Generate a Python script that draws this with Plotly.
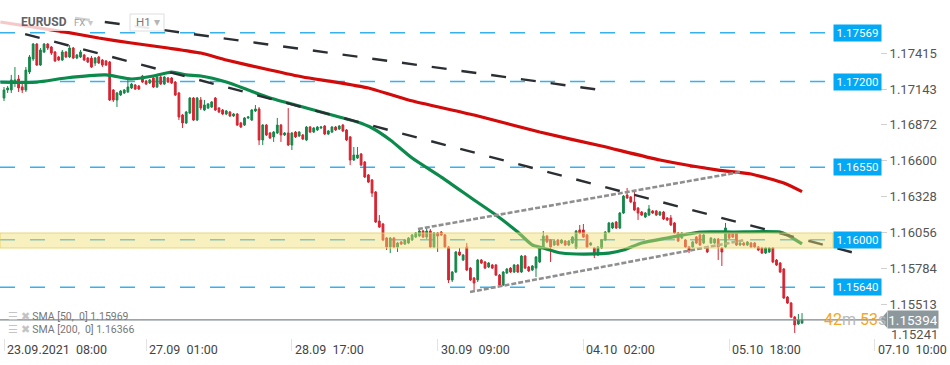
import plotly.graph_objects as go

# ---------------- data (EURUSD, H1) ----------------
opens = [
    1.17075, 1.17136, 1.17136, 1.17189, 1.17219, 1.17159, 1.17136, 1.17272, 1.17371, 1.17484,
    1.17325, 1.17424, 1.17484, 1.17462, 1.17424, 1.17386, 1.17363, 1.17424, 1.17386, 1.17454,
    1.17378, 1.17386, 1.17401, 1.17378, 1.17378, 1.17340, 1.17386, 1.17363, 1.17356, 1.17348,
    1.17136, 1.17060, 1.17098, 1.17113, 1.17121, 1.17151, 1.17174, 1.17166, 1.17242, 1.17204,
    1.17189, 1.17227, 1.17159, 1.17234, 1.17181, 1.17227, 1.17227, 1.17196, 1.17113, 1.16946,
    1.16886, 1.16961, 1.17075, 1.16908, 1.17060, 1.16984, 1.16999, 1.17007, 1.17075, 1.16999,
    1.16984, 1.16954, 1.16969, 1.16939, 1.16954, 1.16886, 1.16870, 1.16924, 1.16908, 1.16977,
    1.16992, 1.16757, 1.16870, 1.16810, 1.16780, 1.16810, 1.16870, 1.16795, 1.16810, 1.16719,
    1.16817, 1.16787, 1.16795, 1.16757, 1.16855, 1.16817, 1.16833, 1.16848, 1.16863, 1.16802,
    1.16817, 1.16855, 1.16840, 1.16870, 1.16833, 1.16780, 1.16605, 1.16620, 1.16651, 1.16590,
    1.16492, 1.16454, 1.16363, 1.16143, 1.16120, 1.16014, 1.15946, 1.16014, 1.15946, 1.15984,
    1.15968, 1.15976, 1.15999, 1.16021, 1.16029, 1.16067, 1.16021, 1.16067, 1.15946, 1.16052,
    1.16059, 1.16037, 1.15946, 1.15696, 1.15756, 1.15908, 1.15847, 1.15946, 1.15786, 1.15711,
    1.15696, 1.15847, 1.15832, 1.15794, 1.15809, 1.15809, 1.15733, 1.15658, 1.15749, 1.15786,
    1.15756, 1.15809, 1.15756, 1.15877, 1.15794, 1.15771, 1.15786, 1.15832, 1.15938, 1.16029,
    1.15999, 1.15961, 1.15999, 1.15976, 1.15991, 1.15961, 1.15976, 1.15938, 1.16075, 1.16075,
    1.16037, 1.15961, 1.15938, 1.15885, 1.15938, 1.15999, 1.16059, 1.16090, 1.16135, 1.16090,
    1.16203, 1.16340, 1.16325, 1.16287, 1.16241, 1.16211, 1.16173, 1.16188, 1.16219, 1.16219,
    1.16188, 1.16211, 1.16166, 1.16166, 1.16128, 1.16052, 1.16014, 1.15999, 1.15946, 1.15946,
    1.16021, 1.16037, 1.15976, 1.15946, 1.15976, 1.15976, 1.16006, 1.15938, 1.15946, 1.16052,
    1.16044, 1.16052, 1.15961, 1.15976, 1.15961, 1.15976, 1.15976, 1.15946, 1.15938, 1.15900,
    1.15908, 1.15938, 1.15847, 1.15824, 1.15779, 1.15567, 1.15521, 1.15415, 1.15362, 1.15370,
]
highs = [
    1.17159, 1.17166, 1.17250, 1.17310, 1.17250, 1.17189, 1.17310, 1.17401, 1.17492, 1.17492,
    1.17454, 1.17492, 1.17492, 1.17469, 1.17431, 1.17394, 1.17439, 1.17431, 1.17477, 1.17462,
    1.17409, 1.17439, 1.17409, 1.17386, 1.17394, 1.17386, 1.17394, 1.17371, 1.17363, 1.17356,
    1.17143, 1.17121, 1.17136, 1.17143, 1.17234, 1.17189, 1.17181, 1.17174, 1.17250, 1.17212,
    1.17219, 1.17234, 1.17242, 1.17242, 1.17242, 1.17234, 1.17234, 1.17204, 1.17121, 1.16954,
    1.16977, 1.17083, 1.17083, 1.17083, 1.17083, 1.17060, 1.17037, 1.17052, 1.17083, 1.17007,
    1.16992, 1.16984, 1.16977, 1.16961, 1.16961, 1.16893, 1.16931, 1.16939, 1.16992, 1.17022,
    1.17007, 1.16878, 1.16878, 1.16817, 1.16825, 1.16924, 1.16878, 1.16817, 1.16999, 1.16817,
    1.16825, 1.16825, 1.16802, 1.16863, 1.16863, 1.16855, 1.16863, 1.16863, 1.16870, 1.16833,
    1.16863, 1.16863, 1.16870, 1.16878, 1.16840, 1.16787, 1.16704, 1.16704, 1.16658, 1.16598,
    1.16499, 1.16461, 1.16370, 1.16188, 1.16128, 1.16021, 1.16021, 1.16021, 1.15984, 1.15991,
    1.16006, 1.16021, 1.16044, 1.16059, 1.16082, 1.16075, 1.16090, 1.16082, 1.16059, 1.16059,
    1.16067, 1.16044, 1.15953, 1.15764, 1.15915, 1.15938, 1.15893, 1.15976, 1.15794, 1.15718,
    1.15855, 1.15855, 1.15840, 1.15832, 1.15817, 1.15817, 1.15741, 1.15764, 1.15786, 1.15794,
    1.15817, 1.15817, 1.15885, 1.15885, 1.15802, 1.15809, 1.15877, 1.15946, 1.16067, 1.16037,
    1.16006, 1.15999, 1.16006, 1.16006, 1.15999, 1.15999, 1.16029, 1.16075, 1.16113, 1.16120,
    1.16044, 1.15984, 1.15946, 1.15953, 1.16006, 1.16067, 1.16135, 1.16135, 1.16143, 1.16211,
    1.16340, 1.16393, 1.16332, 1.16378, 1.16249, 1.16219, 1.16211, 1.16264, 1.16226, 1.16226,
    1.16219, 1.16219, 1.16173, 1.16188, 1.16135, 1.16059, 1.16059, 1.16006, 1.15953, 1.15991,
    1.16029, 1.16044, 1.16044, 1.15953, 1.16021, 1.16014, 1.16014, 1.15946, 1.16128, 1.16059,
    1.16052, 1.16059, 1.15984, 1.15984, 1.15991, 1.15984, 1.15984, 1.15953, 1.15946, 1.15946,
    1.15946, 1.15946, 1.15855, 1.15832, 1.15786, 1.15574, 1.15529, 1.15423, 1.15438, 1.15445,
]
lows = [
    1.17052, 1.17113, 1.17113, 1.17159, 1.17121, 1.17113, 1.17121, 1.17257, 1.17356, 1.17318,
    1.17318, 1.17416, 1.17439, 1.17401, 1.17348, 1.17356, 1.17356, 1.17378, 1.17378, 1.17371,
    1.17371, 1.17378, 1.17356, 1.17340, 1.17303, 1.17318, 1.17333, 1.17310, 1.17318, 1.17052,
    1.17045, 1.17007, 1.17090, 1.17105, 1.17113, 1.17143, 1.17136, 1.17136, 1.17189, 1.17174,
    1.17181, 1.17151, 1.17151, 1.17174, 1.17174, 1.17189, 1.17181, 1.17090, 1.16908, 1.16848,
    1.16878, 1.16954, 1.16901, 1.16901, 1.16984, 1.16977, 1.16992, 1.16999, 1.16977, 1.16961,
    1.16946, 1.16946, 1.16931, 1.16931, 1.16863, 1.16848, 1.16863, 1.16916, 1.16901, 1.16969,
    1.16719, 1.16719, 1.16787, 1.16764, 1.16742, 1.16802, 1.16742, 1.16787, 1.16711, 1.16681,
    1.16772, 1.16780, 1.16757, 1.16749, 1.16810, 1.16810, 1.16825, 1.16840, 1.16795, 1.16795,
    1.16810, 1.16825, 1.16833, 1.16817, 1.16749, 1.16567, 1.16598, 1.16613, 1.16560, 1.16469,
    1.16431, 1.16325, 1.16128, 1.16090, 1.15991, 1.15923, 1.15900, 1.15938, 1.15908, 1.15961,
    1.15961, 1.15968, 1.15991, 1.16014, 1.16021, 1.16014, 1.16006, 1.15938, 1.15938, 1.15908,
    1.16029, 1.15938, 1.15673, 1.15680, 1.15749, 1.15877, 1.15840, 1.15764, 1.15688, 1.15620,
    1.15680, 1.15817, 1.15779, 1.15786, 1.15779, 1.15726, 1.15650, 1.15650, 1.15741, 1.15749,
    1.15749, 1.15749, 1.15749, 1.15779, 1.15756, 1.15764, 1.15718, 1.15824, 1.15931, 1.15976,
    1.15832, 1.15953, 1.15953, 1.15968, 1.15953, 1.15953, 1.15968, 1.15931, 1.16044, 1.16014,
    1.15938, 1.15953, 1.15862, 1.15877, 1.15931, 1.15991, 1.16052, 1.16082, 1.16082, 1.16082,
    1.16196, 1.16310, 1.16279, 1.16219, 1.16150, 1.16181, 1.16166, 1.16181, 1.16196, 1.16181,
    1.16181, 1.16150, 1.16143, 1.16105, 1.16044, 1.15984, 1.16006, 1.15938, 1.15900, 1.15938,
    1.15968, 1.15953, 1.15968, 1.15900, 1.15968, 1.15968, 1.15847, 1.15802, 1.15938, 1.16006,
    1.16014, 1.15953, 1.15953, 1.15953, 1.15953, 1.15938, 1.15938, 1.15915, 1.15893, 1.15893,
    1.15900, 1.15824, 1.15802, 1.15749, 1.15552, 1.15514, 1.15408, 1.15294, 1.15355, 1.15362,
]
closes = [
    1.17136, 1.17151, 1.17212, 1.17212, 1.17151, 1.17136, 1.17287, 1.17386, 1.17484, 1.17325,
    1.17439, 1.17484, 1.17454, 1.17416, 1.17356, 1.17363, 1.17424, 1.17386, 1.17454, 1.17378,
    1.17401, 1.17424, 1.17363, 1.17348, 1.17310, 1.17378, 1.17340, 1.17325, 1.17325, 1.17060,
    1.17060, 1.17113, 1.17128, 1.17136, 1.17159, 1.17181, 1.17143, 1.17143, 1.17196, 1.17181,
    1.17212, 1.17159, 1.17234, 1.17181, 1.17234, 1.17196, 1.17189, 1.17098, 1.16931, 1.16886,
    1.16969, 1.17075, 1.16908, 1.17075, 1.16999, 1.17022, 1.17030, 1.17045, 1.16984, 1.16969,
    1.16954, 1.16977, 1.16939, 1.16954, 1.16870, 1.16855, 1.16924, 1.16931, 1.16984, 1.16992,
    1.16757, 1.16870, 1.16795, 1.16772, 1.16817, 1.16870, 1.16795, 1.16810, 1.16719, 1.16810,
    1.16780, 1.16817, 1.16764, 1.16855, 1.16817, 1.16848, 1.16855, 1.16855, 1.16802, 1.16825,
    1.16855, 1.16833, 1.16863, 1.16825, 1.16757, 1.16605, 1.16643, 1.16643, 1.16567, 1.16476,
    1.16438, 1.16355, 1.16135, 1.16097, 1.15999, 1.15946, 1.16014, 1.15946, 1.15976, 1.15968,
    1.15999, 1.16014, 1.16037, 1.16052, 1.16067, 1.16021, 1.16067, 1.15946, 1.16052, 1.16029,
    1.16037, 1.15946, 1.15696, 1.15756, 1.15908, 1.15885, 1.15885, 1.15771, 1.15696, 1.15673,
    1.15847, 1.15824, 1.15786, 1.15824, 1.15786, 1.15733, 1.15658, 1.15756, 1.15779, 1.15756,
    1.15809, 1.15756, 1.15877, 1.15786, 1.15764, 1.15802, 1.15870, 1.15938, 1.16029, 1.15984,
    1.15946, 1.15991, 1.15961, 1.15999, 1.15961, 1.15991, 1.16021, 1.16067, 1.16052, 1.16021,
    1.15946, 1.15976, 1.15885, 1.15946, 1.15999, 1.16059, 1.16128, 1.16128, 1.16090, 1.16203,
    1.16332, 1.16317, 1.16287, 1.16226, 1.16203, 1.16188, 1.16203, 1.16234, 1.16203, 1.16188,
    1.16211, 1.16158, 1.16150, 1.16113, 1.16052, 1.15991, 1.16052, 1.15946, 1.15923, 1.15984,
    1.15976, 1.15961, 1.16037, 1.15908, 1.16014, 1.16006, 1.15946, 1.15908, 1.16090, 1.16014,
    1.16021, 1.15961, 1.15976, 1.15961, 1.15984, 1.15946, 1.15946, 1.15923, 1.15900, 1.15938,
    1.15938, 1.15832, 1.15809, 1.15756, 1.15559, 1.15521, 1.15415, 1.15355, 1.15392, 1.15394,
]
assert len(opens) == len(highs) == len(lows) == len(closes)
bar_idx = list(range(len(closes)))

# moving averages (bar index -> value)
sma50_x = [-1, 9, 17, 28, 35, 41, 46, 50, 54, 61, 67, 73, 78, 85, 91, 97, 101, 106, 112,
           120, 129, 135, 141, 145, 148, 153, 162, 166, 170, 175, 182, 191, 200, 213, 215, 219]
sma50_y = [1.17196, 1.17196, 1.17227, 1.17250, 1.17219, 1.17242, 1.17272, 1.17250, 1.17242,
           1.17196, 1.17136, 1.17075, 1.17037, 1.16984, 1.16939, 1.16893, 1.16848, 1.16757,
           1.16620, 1.16476, 1.16302, 1.16188, 1.16059, 1.15961, 1.15938, 1.15900, 1.15893,
           1.15900, 1.15923, 1.15976, 1.16014, 1.16059, 1.16059, 1.16059, 1.16037, 1.15969]
sma200_x = [-1, 17, 26, 35, 45, 54, 61, 73, 82, 91, 100, 111, 129, 147, 164, 180, 196, 205, 214, 219]
sma200_y = [1.17651, 1.17575, 1.17530, 1.17492, 1.17454, 1.17416, 1.17363, 1.17287, 1.17234,
            1.17196, 1.17151, 1.17060, 1.16946, 1.16817, 1.16711, 1.16605, 1.16529, 1.16499,
            1.16431, 1.16366]
sma50_last = 1.15969
sma200_last = 1.16366

# drawn trend lines (bar index, price)
trend1_x = [19.5, 163.6]
trend1_y = [1.17682, 1.17136]
trend2_x = [5.8, 233.5]
trend2_y = [1.17560, 1.15900]
chan_up_x = [113.6, 202.0]
chan_up_y = [1.16082, 1.16514]
chan_lo_x = [127.9, 203.4]
chan_lo_y = [1.15605, 1.15999]

levels = [1.17569, 1.17200, 1.16550, 1.16000, 1.15640]
zone_low, zone_high = 1.15938, 1.16052
last_price = 1.15394

y_ticks = [1.17415, 1.17143, 1.16872, 1.16600, 1.16328, 1.16056, 1.15784, 1.15513]
y_tick_low = 1.15241
x_tick_idx = [0, 39, 79, 119, 159, 199, 239]
x_tick_text = ["23.09.2021  08:00", "27.09  01:00", "28.09  17:00", "30.09  09:00",
               "04.10  02:00", "05.10  18:00", "07.10  10:00"]

# ---------------- figure ----------------
W, H = 950, 365
ML, MR, MT, MB = 0, 70, 0, 27
PW, PH = W - ML - MR, H - MT - MB
Y_RANGE = [1.15256, 1.17818]
X_RANGE = [-1.098, 240.4]
px_per_price = PH / (Y_RANGE[1] - Y_RANGE[0])

GREEN = "#17874b"
RED = "#d62532"
FONT = "Roboto"

fig = go.Figure()

fig.add_trace(go.Candlestick(
    x=bar_idx, open=opens, high=highs, low=lows, close=closes,
    increasing=dict(line=dict(color=GREEN, width=1), fillcolor=GREEN),
    decreasing=dict(line=dict(color=RED, width=1), fillcolor=RED),
    whiskerwidth=0, hoverinfo="skip", showlegend=False,
))

fig.add_trace(go.Scatter(x=sma200_x, y=sma200_y, mode="lines",
                         line=dict(color="#d20a0a", width=3.2, shape="spline", smoothing=0.5),
                         hoverinfo="skip"))
fig.add_trace(go.Scatter(x=sma50_x, y=sma50_y, mode="lines",
                         line=dict(color="#0c8a4c", width=3.2, shape="spline", smoothing=0.6),
                         hoverinfo="skip"))

for tx, ty in [(trend1_x, trend1_y), (trend2_x, trend2_y)]:
    fig.add_trace(go.Scatter(x=tx, y=ty, mode="lines",
                             line=dict(color="#2b2f33", width=2.4, dash="15px,15px"),
                             hoverinfo="skip"))
for tx, ty in [(chan_up_x, chan_up_y), (chan_lo_x, chan_lo_y)]:
    fig.add_trace(go.Scatter(x=tx, y=ty, mode="lines",
                             line=dict(color="#8f8f8f", width=2.6, dash="5px,2px"),
                             hoverinfo="skip"))

shapes = []
LBL_X0 = 833 / PW
for lv in levels:
    shapes.append(dict(type="line", xref="paper", yref="y", x0=0, x1=LBL_X0, y0=lv, y1=lv,
                       line=dict(color="#35b2ee", width=1.5, dash="15px,15px"), layer="below"))
# support/resistance zone (translucent, on top)
shapes.append(dict(type="rect", xref="paper", yref="y", x0=0, x1=LBL_X0, y0=zone_low, y1=zone_high,
                   fillcolor="rgba(240,222,110,0.45)", line=dict(color="rgba(228,208,95,0.8)", width=1),
                   layer="above"))
# current price line
shapes.append(dict(type="line", xref="paper", yref="y", x0=0, x1=1, y0=last_price, y1=last_price,
                   line=dict(color="#7d878c", width=1.2), layer="above"))
# price tag arrow
dy = 8 / px_per_price
shapes.append(dict(type="path", xref="paper", yref="y",
                   path=f"M 1.0,{last_price} L {887/PW},{last_price+dy} L {887/PW},{last_price-dy} Z",
                   fillcolor="#8d989d", line=dict(width=0), layer="above"))
# translucent header box (top-left) and H1 selector
shapes.append(dict(type="rect", xref="paper", yref="paper", x0=0, x1=97 / PW,
                   y0=1 - 31 / PH, y1=1 - 11 / PH, fillcolor="rgba(255,255,255,0.78)",
                   line=dict(width=0), layer="above"))
shapes.append(dict(type="rect", xref="paper", yref="paper", x0=130 / PW, x1=164 / PW,
                   y0=1 - 31 / PH, y1=1 - 14 / PH, fillcolor="rgba(255,255,255,0.9)",
                   line=dict(color="#dedede", width=1), layer="above"))

ann = []
for lv in levels:
    ann.append(dict(xref="paper", yref="y", x=LBL_X0, y=lv, xanchor="left", yanchor="middle",
                    text=f"{lv:.5f}", showarrow=False, bgcolor="#03a9f4", width=45, height=14,
                    borderpad=1, font=dict(family=FONT, size=11.5, color="white")))
# countdown
ann.append(dict(xref="paper", yref="y", x=822 / PW, y=last_price, xanchor="left", yanchor="middle",
                showarrow=False,
                text=('<span style="color:#f5a623">42</span><span style="color:#b9b9b9">m</span> '
                      '<span style="color:#f5a623">53</span><span style="color:#b9b9b9">s</span>'),
                font=dict(family=FONT, size=16)))
ann.append(dict(xref="paper", yref="y", x=887 / PW, y=last_price, xanchor="left", yanchor="middle",
                text=f"{last_price:.5f}", showarrow=False, bgcolor="#8d989d", width=48, height=15,
                borderpad=1, font=dict(family=FONT, size=13.5, color="white")))
# lowest axis label (sits below the plotting range)
ann.append(dict(xref="paper", yref="paper", x=889 / PW, y=(PH - 334) / PH, xanchor="left",
                yanchor="middle", text=f"{y_tick_low:.5f}", showarrow=False,
                font=dict(family=FONT, size=13, color="#555555")))
# x labels (left aligned at their ticks)
for xi, xt in zip(x_tick_idx, x_tick_text):
    ann.append(dict(xref="x", yref="paper", x=xi, y=0, xanchor="left", yanchor="top", xshift=1,
                    yshift=-2, text=xt.replace(" ", "\u00a0"), showarrow=False,
                    font=dict(family=FONT, size=12.5, color="#444444")))
# indicator legend
for i, (name, val) in enumerate([("SMA [50,  0]", sma50_last), ("SMA [200,  0]", sma200_last)]):
    ann.append(dict(xref="paper", yref="paper", x=6 / PW, y=(PH - (316 + 13 * i)) / PH,
                    xanchor="left", yanchor="middle", showarrow=False,
                    text=('<span style="color:#c4c4c4">☰ ✖</span> '
                          f'<span style="color:#777777">{name.replace(" ", chr(160))} {val:.5f}</span>'),
                    font=dict(family=FONT, size=10.5)))
# header
ann.append(dict(xref="paper", yref="paper", x=19 / PW, y=1 - 22 / PH, xanchor="left", yanchor="middle",
                text="<b>EURUSD</b>", showarrow=False, font=dict(family=FONT, size=12, color="#5f6368")))
ann.append(dict(xref="paper", yref="paper", x=72 / PW, y=1 - 22 / PH, xanchor="left", yanchor="middle",
                text='FX <span style="color:#c8c8c8">▾</span>', showarrow=False,
                font=dict(family=FONT, size=9.5, color="#9aa0a6")))
ann.append(dict(xref="paper", yref="paper", x=134 / PW, y=1 - 22.5 / PH, xanchor="left", yanchor="middle",
                text='H1 <span style="color:#b5b5b5">▾</span>', showarrow=False,
                font=dict(family=FONT, size=11.5, color="#7a7a7a")))

fig.update_layout(
    width=W, height=H, margin=dict(l=ML, r=MR, t=MT, b=MB),
    paper_bgcolor="white", plot_bgcolor="white", showlegend=False,
    font=dict(family=FONT), shapes=shapes, annotations=ann,
    xaxis=dict(range=X_RANGE, showgrid=False, zeroline=False, showline=False,
               tickvals=x_tick_idx, showticklabels=False, ticks="outside", ticklen=12,
               tickcolor="#e3e3e3", rangeslider=dict(visible=False), fixedrange=True),
    yaxis=dict(range=Y_RANGE, side="right", showgrid=False, zeroline=False, showline=False,
               tickvals=y_ticks, ticktext=[f"{v:.5f}" for v in y_ticks], ticks="outside",
               ticklen=6, tickcolor="#d0d0d0", tickfont=dict(family=FONT, size=13, color="#555555"),
               fixedrange=True),
)

fig.write_html("out.html", config={"displayModeBar": False},
               post_script="document.body.style.margin='0';document.body.style.overflow='hidden';")
